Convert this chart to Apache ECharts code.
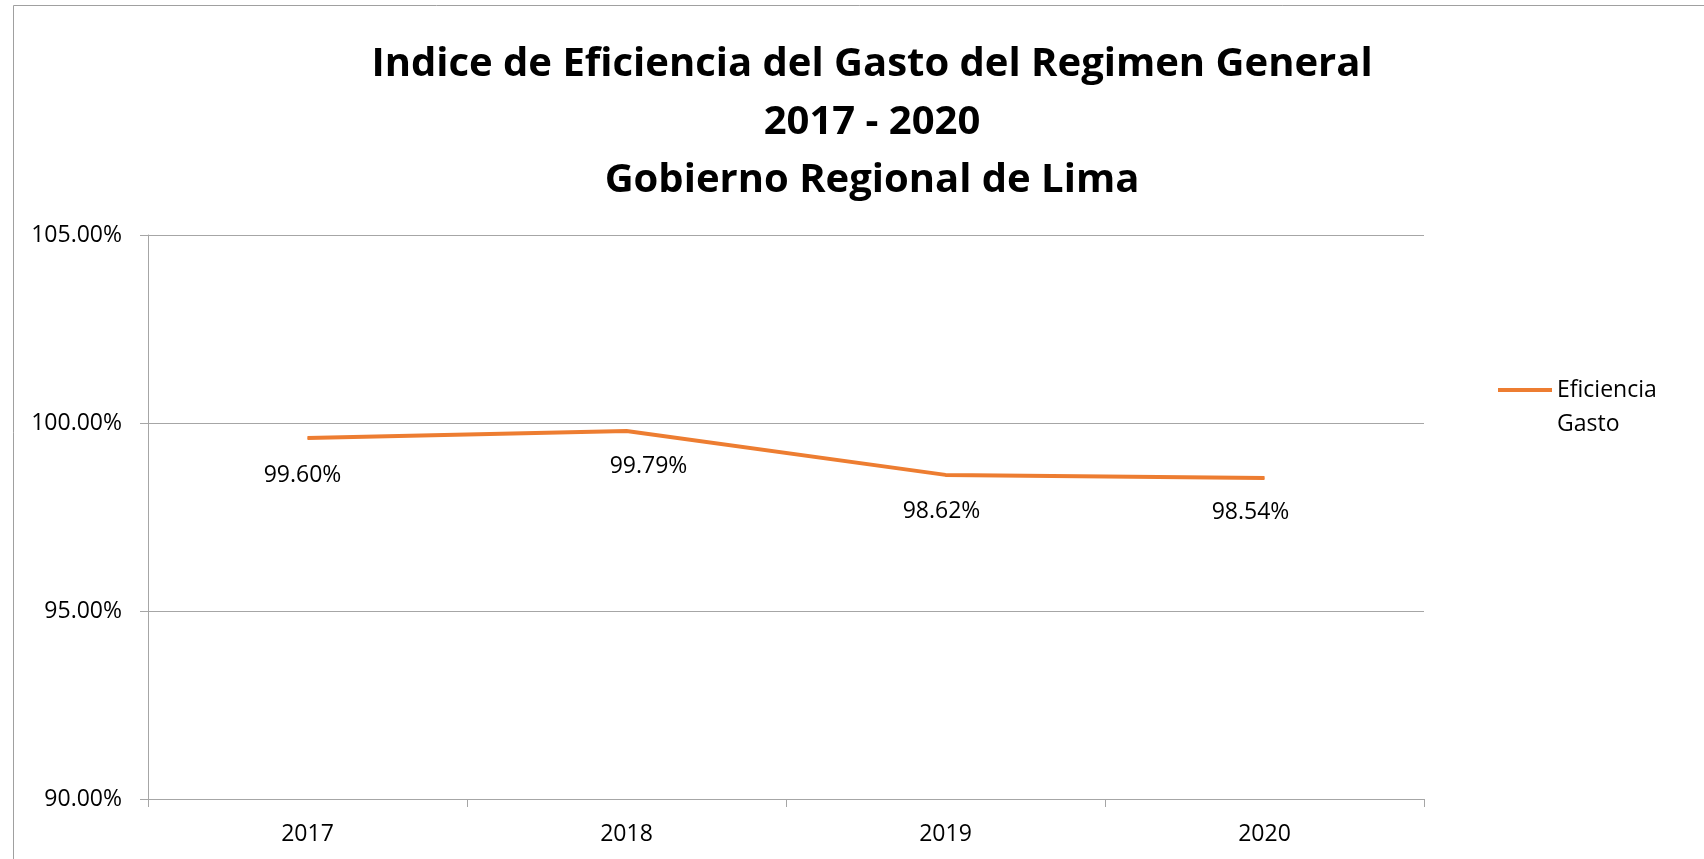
<!DOCTYPE html>
<html>
<head>
<meta charset="utf-8">
<script src="https://cdn.jsdelivr.net/npm/echarts@6/dist/echarts.min.js"></script>
<style>
  html, body { margin: 0; padding: 0; background: #fff; }
  #chart { width: 1704px; height: 859px; }
</style>
</head>
<body>
<div id="chart"></div>
<script>
// datos del grafico
var years = ['2017', '2018', '2019', '2020'];
var eficiencia = [99.60, 99.79, 98.62, 98.54];
var labelOffsets = [[-5, 37], [22, 36], [-4, 37], [-14, 35]]; // desplazamiento de etiquetas
var yTicks = [90, 95, 100, 105];

var chart = echarts.init(document.getElementById('chart'));
var option = {
  backgroundColor: '#fff',
  title: {
    text: 'Indice de Eficiencia del Gasto del Regimen General\n2017 - 2020\nGobierno Regional de Lima',
    left: 867,
    top: 31,
    textAlign: 'center',
    textStyle: {
      fontFamily: 'Open Sans',
      fontWeight: 'bold',
      fontSize: 40,
      lineHeight: 58,
      color: '#000'
    }
  },
  graphic: [{
    type: 'rect',
    shape: { x: 13.5, y: 5.5, width: 2000, height: 2000 },
    style: { fill: 'none', stroke: '#a0a0a0', lineWidth: 1 },
    silent: true
  }],
  legend: {
    left: 1493,
    top: 334,
    orient: 'vertical',
    icon: 'rect',
    itemWidth: 54,
    itemHeight: 4,
    itemGap: 6,
    // linea vacia al inicio para que el icono quede junto a la primera linea
    formatter: function (name) { return '\u00a0\nEficiencia\nGasto'; },
    textStyle: {
      fontFamily: 'Open Sans',
      fontSize: 23,
      lineHeight: 34,
      color: '#000'
    }
  },
  grid: {
    left: 148,
    right: 280,
    top: 235,
    bottom: 60,
    containLabel: false
  },
  xAxis: {
    type: 'category',
    boundaryGap: true,
    data: years,
    axisLine: { show: true, lineStyle: { color: '#a6a6a6', width: 1 } },
    axisTick: { show: true, length: 8, lineStyle: { color: '#a6a6a6' } },
    axisLabel: { fontFamily: 'Open Sans', fontSize: 23, color: '#000', margin: 24 }
  },
  yAxis: {
    type: 'value',
    min: yTicks[0],
    max: yTicks[yTicks.length - 1],
    interval: 5,
    axisLine: { show: true, lineStyle: { color: '#a6a6a6', width: 1 } },
    axisTick: { show: true, length: 8, lineStyle: { color: '#a6a6a6' } },
    splitLine: { show: true, lineStyle: { color: '#a6a6a6', width: 1 } },
    axisLabel: {
      fontFamily: 'Open Sans',
      fontSize: 23,
      color: '#000',
      margin: 26,
      formatter: function (v) { return v.toFixed(2) + '%'; }
    }
  },
  series: [{
    name: 'Eficiencia Gasto',
    type: 'line',
    data: eficiencia.map(function (v, i) {
      return {
        value: v,
        label: { offset: labelOffsets[i] }
      };
    }),
    symbol: 'circle',
    symbolSize: 1,
    showSymbol: true,
    color: '#ED7D31',
    lineStyle: { color: '#ED7D31', width: 4 },
    itemStyle: { color: '#ED7D31' },
    label: {
      show: true,
      position: 'inside',
      fontFamily: 'Open Sans',
      fontSize: 23,
      color: '#000',
      formatter: function (p) { return p.value.toFixed(2) + '%'; }
    },
    animation: false
  }]
};
chart.setOption(option);
</script>
</body>
</html>
